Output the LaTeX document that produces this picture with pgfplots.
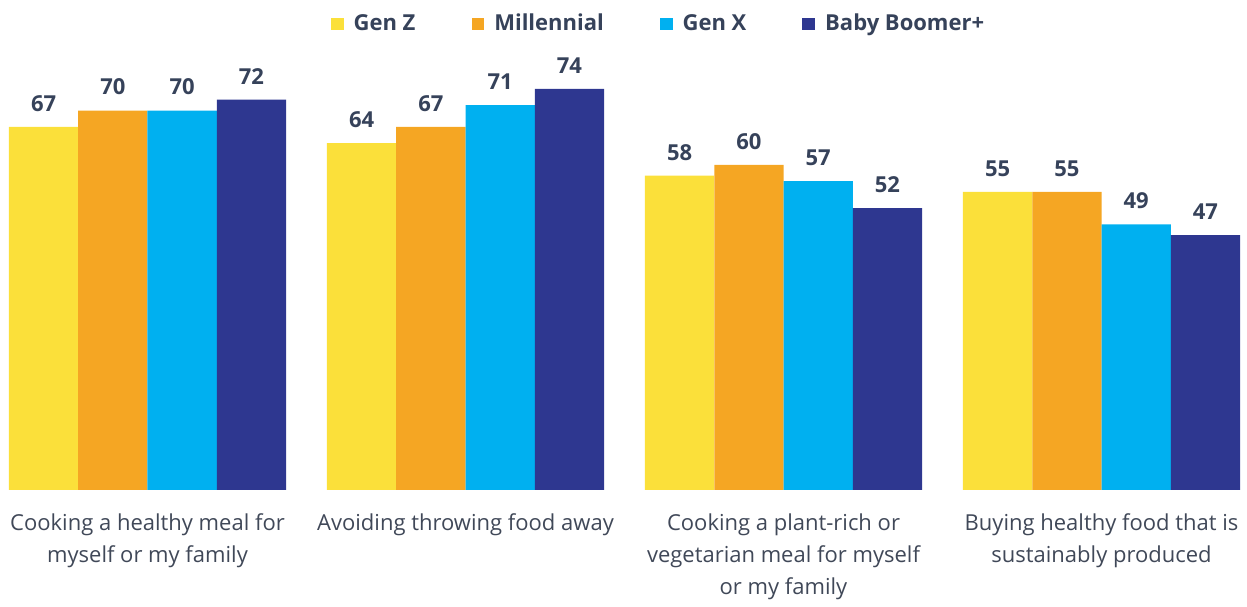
\documentclass[border=0pt]{standalone}
\usepackage{pgfplots}
\pgfplotsset{compat=1.18}
\usepackage{fontspec}
\setmainfont{Open Sans}
\definecolor{genz}{HTML}{FBE03A}
\definecolor{mill}{HTML}{F5A623}
\definecolor{genx}{HTML}{00B0F0}
\definecolor{boom}{HTML}{2E3790}
\definecolor{txt}{HTML}{36425A}
\definecolor{cat}{HTML}{404858}
\begin{document}
\begin{tikzpicture}
\begin{axis}[name=ax, scale only axis,
  width=623.5pt, height=222.5pt,
  xmin=-0.4638, xmax=3.4575, ymin=0, ymax=82.1,
  axis line style={draw=none}, ytick=\empty,
  major tick length=0pt,
  /pgf/number format/assume math mode=true,
  ybar=0pt, bar width=0.2178,
  xtick={0,1,2,3},
  xticklabels={{Cooking a healthy meal for\\myself or my family},
               {Avoiding throwing food away},
               {Cooking a plant-rich or\\vegetarian meal for myself\\or my family},
               {Buying healthy food that is\\sustainably produced}},
  xticklabel style={font=\fontsize{11}{16}\selectfont, text=cat, align=center, anchor=north, yshift=-8.5pt},
  nodes near coords,
  every node near coord/.append style={font=\fontsize{11}{12}\selectfont\bfseries, text=txt, inner sep=0pt, yshift=7.5pt},
  legend style={at={(0.5,1)}, anchor=center, yshift=10.5pt, xshift=18pt, draw=none, fill=none,
    legend columns=4, font=\fontsize{11}{12}\selectfont\bfseries, text=txt,
    /tikz/every odd column/.append style={column sep=3pt},
    /tikz/every even column/.append style={column sep=26pt}},
  legend cell align=left,
]
\addplot[fill=genz, draw=none, legend image code/.code={\fill[genz] (0pt,-3.2pt) rectangle (6.4pt,3.2pt);}] coordinates {(0,67) (1,64) (2,58) (3,55)};
\addplot[fill=mill, draw=none, legend image code/.code={\fill[mill] (0pt,-3.2pt) rectangle (6.4pt,3.2pt);}] coordinates {(0,70) (1,67) (2,60) (3,55)};
\addplot[fill=genx, draw=none, legend image code/.code={\fill[genx] (0pt,-3.2pt) rectangle (6.4pt,3.2pt);}] coordinates {(0,70) (1,71) (2,57) (3,49)};
\addplot[fill=boom, draw=none, legend image code/.code={\fill[boom] (0pt,-3.2pt) rectangle (6.4pt,3.2pt);}] coordinates {(0,72) (1,74) (2,52) (3,47)};
\legend{Gen Z, Millennial, Gen X, Baby Boomer+}
\end{axis}
\path (ax.south west) ++(0pt,-56pt) rectangle ++(623.5pt,301pt);
\end{tikzpicture}
\end{document}
